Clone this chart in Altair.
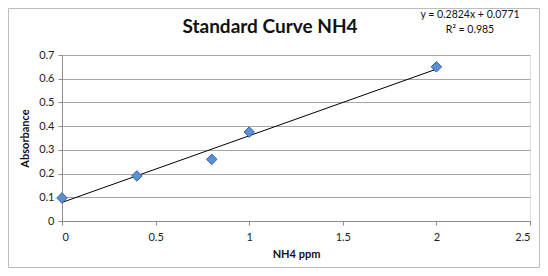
import altair as alt
import pandas as pd

nh4_ppm = [0.0, 0.4, 0.8, 1.0, 2.0]
absorbance = [0.097, 0.19, 0.26, 0.375, 0.65]
x_ticks = [0, 0.5, 1, 1.5, 2, 2.5]
y_ticks = [0, 0.1, 0.2, 0.3, 0.4, 0.5, 0.6, 0.7]
title_text = "Standard Curve NH4"
eq_lines = ["y = 0.2824x + 0.0771", "R² = 0.985"]

df = pd.DataFrame({"x": nh4_ppm, "y": absorbance})

W, H = 468, 166
FONT = "Lato"

xscale = alt.Scale(domain=[0, 2.5], nice=False)
yscale = alt.Scale(domain=[0, 0.7], nice=False)

xaxis = alt.Axis(values=x_ticks, title="NH4 ppm", grid=False, domain=True,
                 domainColor="#8c8c8c", tickColor="#8c8c8c", tickSize=4,
                 labelFont=FONT, labelFontSize=11, labelColor="#222",
                 labelPadding=6, titleFont=FONT, titleFontSize=11,
                 titleFontWeight="bold", titleColor="#111", titlePadding=6,
                 format="~g", labelOverlap=False)
yaxis = alt.Axis(values=y_ticks, title="Absorbance", grid=True,
                 gridColor="#a6a6a6", domain=True, domainColor="#8c8c8c",
                 tickColor="#8c8c8c", tickSize=4, labelFont=FONT,
                 labelFontSize=11, labelColor="#222", labelPadding=4,
                 titleFont=FONT, titleFontSize=11, titleFontWeight="bold",
                 titleColor="#111", titlePadding=8, format="~g",
                 labelOverlap=False)

base = alt.Chart(df).encode(
    x=alt.X("x:Q", scale=xscale, axis=xaxis),
    y=alt.Y("y:Q", scale=yscale, axis=yaxis),
)

line = base.transform_regression("x", "y", extent=[0, 2]).mark_line(
    color="black", strokeWidth=1
)

points = base.mark_point(
    shape="diamond", filled=True, size=110, fill="#5b8fd6",
    stroke="#35609e", strokeWidth=1, opacity=1
)

title_df = pd.DataFrame({"t": [title_text]})
title = alt.Chart(title_df).mark_text(
    font=FONT, fontSize=19, fontWeight="bold", color="#111", align="center",
    baseline="middle"
).encode(text="t:N", x=alt.value(208), y=alt.value(-28))

eq_df = pd.DataFrame({"t": eq_lines, "yy": [-40, -25]})
eq = alt.Chart(eq_df).mark_text(
    font=FONT, fontSize=10.5, color="#111", align="center", baseline="middle"
).encode(text="t:N", x=alt.value(408), y=alt.Y("yy:Q", scale=None))

border = alt.Chart(title_df).mark_rect(
    fill=None, stroke="#bdbdbd", strokeWidth=1
).encode(x=alt.value(-53.5), x2=alt.value(W + 9.5),
         y=alt.value(-46.5), y2=alt.value(H + 46.5))

chart = alt.layer(border, line, points, title, eq).properties(
    width=W, height=H,
    autosize=alt.AutoSizeParams(type="none"),
    padding={"left": 54, "top": 47, "right": 10, "bottom": 47},
).configure_view(stroke=None).configure(background="white")

chart.save("out.html", embed_options={"renderer": "svg", "actions": False})
